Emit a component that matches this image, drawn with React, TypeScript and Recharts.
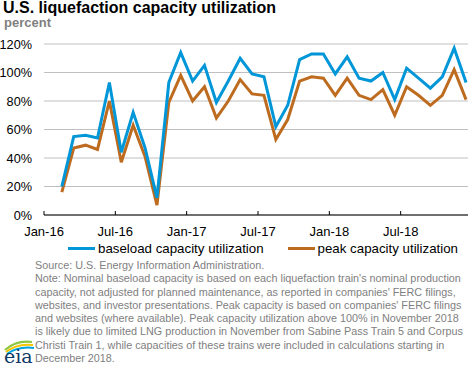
import { LineChart, Line, XAxis, YAxis, CartesianGrid, Legend } from 'recharts';

// months from Jan-16 to Dec-18, Jan-16 has no value
const months = [
    'Jan-16', 'Feb-16', 'Mar-16', 'Apr-16', 'May-16', 'Jun-16', 'Jul-16', 'Aug-16', 'Sep-16', 'Oct-16', 'Nov-16', 'Dec-16',
    'Jan-17', 'Feb-17', 'Mar-17', 'Apr-17', 'May-17', 'Jun-17', 'Jul-17', 'Aug-17', 'Sep-17', 'Oct-17', 'Nov-17', 'Dec-17',
    'Jan-18', 'Feb-18', 'Mar-18', 'Apr-18', 'May-18', 'Jun-18', 'Jul-18', 'Aug-18', 'Sep-18', 'Oct-18', 'Nov-18', 'Dec-18',
];
const baseload = [
    null, 20, 55, 56, 54, 93, 44, 72, 47, 12, 93, 114,
    94, 105, 79, 94, 110, 99, 97, 62, 77, 109, 113, 113,
    99, 111, 96, 94, 100, 81, 103, 96, 89, 97, 117, 93,
];
const peak = [
    null, 16, 47, 49, 46, 80, 37, 63, 41, 7, 79, 98,
    80, 90, 68, 80, 95, 85, 84, 53, 67, 94, 97, 96,
    84, 96, 84, 81, 88, 70, 90, 84, 77, 84, 102, 81,
];
const xTicks = [0, 6, 12, 18, 24, 30];
const xTickLabels = ['Jan-16', 'Jul-16', 'Jan-17', 'Jul-17', 'Jan-18', 'Jul-18'];
const yTicks = [0, 20, 40, 60, 80, 100, 120];

const noteLines = [
    'Source: U.S. Energy Information Administration.',
    "Note: Nominal baseload capacity is based on each liquefaction train's nominal production",
    "capacity, not adjusted for planned maintenance, as reported in companies' FERC filings,",
    "websites, and investor presentations. Peak capacity is based on companies' FERC filings",
    'and websites (where available). Peak capacity utilization above 100% in November 2018',
    'is likely due to limited LNG production in November from Sabine Pass Train 5 and Corpus',
    'Christi Train 1, while capacities of these trains were included in calculations starting in',
    'December 2018.',
];

const BLUE = '#0096d7';
const BROWN = '#bd6b1f';
const FONT = '"Liberation Sans", Arial, sans-serif';

const data = months.map((m, i) => ({ m, x: i + 0.5, baseload: baseload[i], peak: peak[i] }));

const XTick = ({ x, y, payload }: any) => {
    const idx = xTicks.indexOf(payload.value);
    return (
        <g>
            <line x1={x} x2={x} y1={y} y2={y - 4} stroke="#000" strokeWidth={1} />
            <text x={x} y={y + 21} textAnchor="middle" fontSize={13} fill="#000" fontFamily={FONT}>
                {xTickLabels[idx]}
            </text>
        </g>
    );
};

const LegendContent = () => (
    <div style={{ display: 'flex', fontFamily: FONT, fontSize: 13.3, color: '#000', height: 26, alignItems: 'center', whiteSpace: 'nowrap' }}>
        <div style={{ width: 68, flexShrink: 0 }} />
        <div style={{ width: 27, height: 3, background: BLUE, marginRight: 3, flexShrink: 0 }} />
        <span>baseload capacity utilization</span>
        <div style={{ width: 24, flexShrink: 0 }} />
        <div style={{ width: 27, height: 3, background: BROWN, marginRight: 3, flexShrink: 0 }} />
        <span>peak capacity utilization</span>
    </div>
);

const EiaLogo = () => (
    <svg width={36} height={30} style={{ position: 'absolute', left: 2, top: 336 }}>
        <path d="M3 14 Q14 4 30 6" stroke="#8dc63f" strokeWidth={2.2} fill="none" />
        <path d="M4 16 Q15 7 31 9" stroke="#f7c600" strokeWidth={2} fill="none" />
        <path d="M5 18 Q16 10 32 12" stroke="#00a3e0" strokeWidth={2} fill="none" />
        <text x={2} y={27} fontSize={19} fontFamily="'DejaVu Serif', 'Liberation Serif', serif" fill="#0e3a66">eia</text>
    </svg>
);

export default function App() {
    return (
        <div style={{ position: 'absolute', left: 0, top: 0, width: 468, height: 366, overflow: 'hidden', background: '#fff', fontFamily: FONT }}>
            <div style={{ position: 'absolute', left: 3, top: -1, fontSize: 16, fontWeight: 'bold', color: '#000', whiteSpace: 'nowrap' }}>
                U.S. liquefaction capacity utilization
            </div>
            <div style={{ position: 'absolute', left: 4, top: 15, fontSize: 13, fontWeight: 'bold', color: '#7f7f7f' }}>
                percent
            </div>
            <div style={{ position: 'absolute', left: 0, top: 0 }}>
                <LineChart width={472} height={261} data={data} margin={{ top: 44, right: 0, left: 0, bottom: 0 }}>
                    <CartesianGrid vertical={false} stroke="#c0c0c0" strokeWidth={1} />
                    <XAxis
                        dataKey="x"
                        type="number"
                        domain={[0, 36]}
                        ticks={xTicks}
                        tick={<XTick />}
                        tickLine={false}
                        tickSize={0}
                        tickMargin={0}
                        height={20}
                        axisLine={{ stroke: '#000', strokeWidth: 1 }}
                        interval={0}
                    />
                    <YAxis
                        domain={[0, 120]}
                        ticks={yTicks}
                        width={44}
                        axisLine={false}
                        tickLine={false}
                        tickMargin={6}
                        tickFormatter={(v) => `${v}%`}
                        tick={{ fontSize: 12.7, fill: '#000', fontFamily: FONT }}
                        interval={0}
                    />
                    <Legend verticalAlign="bottom" height={26} content={<LegendContent />} />
                    <Line type="linear" dataKey="peak" stroke={BROWN} strokeWidth={3} dot={false} isAnimationActive={false} />
                    <Line type="linear" dataKey="baseload" stroke={BLUE} strokeWidth={3} dot={false} isAnimationActive={false} />
                </LineChart>
            </div>
            <div style={{ position: 'absolute', left: 35, top: 259, fontSize: 10.8, lineHeight: '13.3px', color: '#808080', whiteSpace: 'nowrap' }}>
                {noteLines.map((l, i) => (
                    <div key={i}>{l}</div>
                ))}
            </div>
            <EiaLogo />
        </div>
    );
}
